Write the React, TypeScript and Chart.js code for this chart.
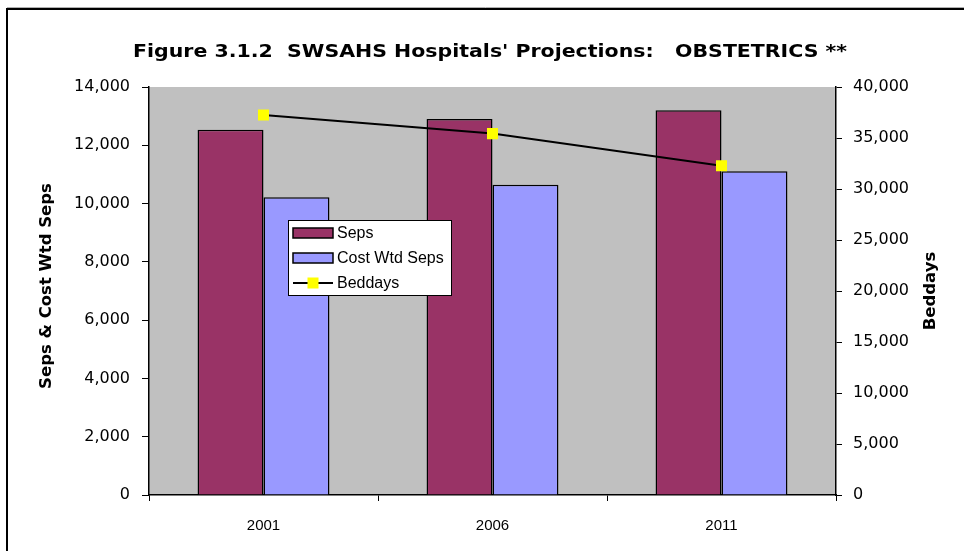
import React, { useEffect, useRef } from "react";
import { Chart, registerables } from "chart.js";

Chart.register(...registerables);

const categories = ["2001", "2006", "2011"];
const seps = [12530, 12900, 13200];
const costWtdSeps = [10220, 10650, 11110];
const beddays = [37250, 35430, 32280];

const leftTicks = { min: 0, max: 14000, step: 2000 };
const rightTicks = { min: 0, max: 40000, step: 5000 };

const titleText = "Figure 3.1.2  SWSAHS Hospitals' Projections:   OBSTETRICS **";
const leftTitle = "Seps & Cost Wtd Seps";
const rightTitle = "Beddays";

const SEPS_COLOR = "#993366";
const COST_COLOR = "#9999FF";
const MARKER_COLOR = "#FFFF00";

const fmt = (v: number) => Number(v).toLocaleString("en-US");

const decorPlugin = {
  id: "decor",
  beforeDraw(chart: any) {
    const { ctx, chartArea, width, height } = chart;
    ctx.save();
    ctx.fillStyle = "#ffffff";
    ctx.fillRect(0, 0, width, height);
    // outer frame
    ctx.strokeStyle = "#b0b0b0";
    ctx.lineWidth = 1;
    ctx.beginPath();
    ctx.moveTo(7, 7.5);
    ctx.lineTo(width, 7.5);
    ctx.stroke();
    ctx.strokeStyle = "#000";
    ctx.lineWidth = 2;
    ctx.strokeRect(7, 9, width + 20, height + 20);
    // plot area
    ctx.fillStyle = "#C0C0C0";
    ctx.fillRect(chartArea.left, chartArea.top, chartArea.right - chartArea.left, chartArea.bottom - chartArea.top);
    ctx.restore();
  },
  afterDraw(chart: any) {
    const { ctx, chartArea } = chart;
    ctx.save();
    ctx.fillStyle = "#000";
    // title (stretched horizontally to match the original span)
    ctx.font = "bold 18px 'DejaVu Sans'";
    ctx.textAlign = "center";
    ctx.textBaseline = "alphabetic";
    const tw = ctx.measureText(titleText).width;
    const sx = 714 / tw;
    ctx.save();
    ctx.translate(490, 57);
    ctx.scale(sx, 1);
    ctx.fillText(titleText, 0, 0);
    ctx.restore();
    // axis titles
    ctx.font = "bold 16.5px 'DejaVu Sans'";
    ctx.textBaseline = "middle";
    ctx.save();
    ctx.translate(47, 286);
    ctx.rotate(-Math.PI / 2);
    ctx.fillText(leftTitle, 0, 0);
    ctx.restore();
    ctx.save();
    ctx.translate(931, 291);
    ctx.rotate(-Math.PI / 2);
    ctx.fillText(rightTitle, 0, 0);
    ctx.restore();

    // legend
    const lx = chartArea.left + 139;
    const ly = chartArea.top + 133;
    const lw = 164;
    const lh = 76;
    ctx.fillStyle = "#fff";
    ctx.fillRect(lx, ly, lw, lh);
    ctx.strokeStyle = "#000";
    ctx.lineWidth = 1;
    ctx.strokeRect(lx + 0.5, ly + 0.5, lw - 1, lh - 1);
    const items = chart.data.datasets;
    const rows = [
      { ds: items[1], y: ly + 13 },
      { ds: items[2], y: ly + 38 },
      { ds: items[0], y: ly + 63 },
    ];
    ctx.font = "16px 'Liberation Sans'";
    ctx.textAlign = "left";
    ctx.textBaseline = "middle";
    for (const r of rows) {
      const x0 = lx + 5;
      if (r.ds.type === "line") {
        ctx.strokeStyle = "#000";
        ctx.lineWidth = 2;
        ctx.beginPath();
        ctx.moveTo(x0, r.y);
        ctx.lineTo(x0 + 40, r.y);
        ctx.stroke();
        ctx.fillStyle = MARKER_COLOR;
        ctx.fillRect(x0 + 14.5, r.y - 5.5, 11, 11);
      } else {
        ctx.fillStyle = r.ds.backgroundColor;
        ctx.fillRect(x0, r.y - 5, 40, 10);
        ctx.strokeStyle = "#000";
        ctx.lineWidth = 1.5;
        ctx.strokeRect(x0, r.y - 5, 40, 10);
      }
      ctx.fillStyle = "#000";
      ctx.fillText(r.ds.label, lx + 49, r.y + 1);
    }
    ctx.restore();
  },
};

export default function App() {
  const ref = useRef<HTMLCanvasElement | null>(null);

  useEffect(() => {
    if (!ref.current) return;
    const chart = new Chart(ref.current, {
      type: "bar",
      data: {
        labels: categories,
        datasets: [
          {
            type: "line",
            label: "Beddays",
            data: beddays,
            yAxisID: "y1",
            borderColor: "#000",
            borderWidth: 2,
            pointStyle: "rect",
            pointRadius: 7.8,
            pointBorderWidth: 0,
            pointBackgroundColor: MARKER_COLOR,
            pointBorderColor: MARKER_COLOR,
            order: 0,
            tension: 0,
          } as any,
          {
            type: "bar",
            label: "Seps",
            data: seps,
            yAxisID: "y",
            backgroundColor: SEPS_COLOR,
            borderColor: "#000",
            borderWidth: 1.5,
            barPercentage: 1,
            categoryPercentage: 0.576,
            order: 1,
          },
          {
            type: "bar",
            label: "Cost Wtd Seps",
            data: costWtdSeps,
            yAxisID: "y",
            backgroundColor: COST_COLOR,
            borderColor: "#000",
            borderWidth: 1.5,
            barPercentage: 1,
            categoryPercentage: 0.576,
            order: 1,
          },
        ],
      },
      options: {
        animation: false,
        responsive: true,
        maintainAspectRatio: false,
        layout: { padding: { top: 87, left: 0, right: 0, bottom: 0 } },
        plugins: {
          legend: { display: false },
          title: { display: false },
          tooltip: { enabled: false },
        },
        scales: {
          x: {
            offset: true,
            grid: { offset: true, drawOnChartArea: false, drawTicks: true, tickLength: 6, color: "#000" },
            border: { color: "#000", width: 1.5 },
            ticks: { color: "#000", font: { family: "'Liberation Sans'", size: 15 }, padding: 16, maxRotation: 0 },
            afterFit: (s: any) => { s.height = 56; },
          },
          y: {
            position: "left",
            min: leftTicks.min,
            max: leftTicks.max,
            grid: { drawOnChartArea: false, drawTicks: true, tickLength: 7, color: "#000" },
            border: { color: "#000", width: 1.5 },
            ticks: {
              stepSize: leftTicks.step,
              color: "#000",
              font: { family: "'DejaVu Sans'", size: 16 },
              padding: 12,
              callback: (v: any) => fmt(v),
            },
            afterFit: (s: any) => { s.width = 149; },
          },
          y1: {
            position: "right",
            min: rightTicks.min,
            max: rightTicks.max,
            grid: { drawOnChartArea: false, drawTicks: true, tickLength: 6, color: "#000" },
            border: { color: "#000", width: 1.5 },
            ticks: {
              stepSize: rightTicks.step,
              color: "#000",
              font: { family: "'DejaVu Sans'", size: 16 },
              padding: 11,
              callback: (v: any) => fmt(v),
            },
            afterFit: (s: any) => { s.width = 964 - 836; },
          },
        },
      },
      plugins: [decorPlugin],
    });
    return () => chart.destroy();
  }, []);

  return (
    <div style={{ position: "fixed", left: 0, top: 0, width: 964, height: 551, background: "#fff" }}>
      <canvas ref={ref} />
    </div>
  );
}
